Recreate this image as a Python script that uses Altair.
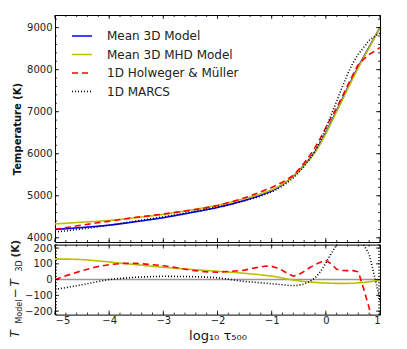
import altair as alt
import pandas as pd

# ---- data ----
log_tau = [-5, -4.75, -4.5, -4.25, -4, -3.75, -3.5, -3.25, -3, -2.75, -2.5, -2.25,
           -2, -1.75, -1.5, -1.25, -1.1, -1, -0.9, -0.8, -0.7, -0.6, -0.5, -0.4,
           -0.3, -0.2, -0.1, 0, 0.1, 0.2, 0.3, 0.4, 0.5, 0.6, 0.7, 0.8, 0.9, 1.0]

T_3D = [4200, 4220, 4245, 4270, 4300, 4340, 4385, 4430, 4478, 4535, 4595, 4655,
        4720, 4800, 4890, 4990, 5065, 5115, 5185, 5265, 5360, 5465, 5590, 5730,
        5880, 6050, 6260, 6500, 6760, 7030, 7290, 7560, 7820, 8070, 8310, 8540, 8770, 9000]

T_MHD = [4330, 4350, 4372, 4390, 4412, 4443, 4480, 4516, 4556, 4606, 4660, 4714,
         4773, 4847, 4930, 5022, 5091, 5137, 5202, 5275, 5363, 5462, 5582, 5718,
         5865, 6032, 6240, 6478, 6737, 7006, 7266, 7536, 7797, 8049, 8292, 8526, 8761, 8995]

T_HM = [4200, 4250, 4302, 4350, 4395, 4443, 4488, 4526, 4566, 4610, 4655, 4705,
        4767, 4852, 4950, 5068, 5151, 5199, 5259, 5323, 5398, 5487, 5622, 5782,
        5955, 6145, 6370, 6622, 6860, 7096, 7348, 7617, 7877, 8120, 8250, 8360, 8440, 8524]

T_MARCS = [4138, 4172, 4212, 4255, 4300, 4349, 4400, 4449, 4499, 4555, 4614, 4671,
           4732, 4800, 4878, 4971, 5042, 5089, 5155, 5232, 5324, 5427, 5554, 5702,
           5868, 6060, 6310, 6605, 6925, 7250, 7580, 7890, 8160, 8370, 8530, 8700, 8790, 8870]

models = ["Mean 3D Model", "Mean 3D MHD Model", "1D Holweger & Müller", "1D MARCS"]
colors = ["#0000ff", "#bfbf00", "#ff0000", "#000000"]
dashes = [[1, 0], [1, 0], [6, 4], [1, 2]]
widths = [1.6, 1.6, 1.6, 1.1]

x_major = [-5, -4, -3, -2, -1, 0, 1]
x_minor = [round(-5 + 0.2 * i, 1) for i in range(31)]
t_major = [4000, 5000, 6000, 7000, 8000, 9000]
t_minor = list(range(4000, 9301, 200))
d_major = [-200, -100, 0, 100, 200]
d_minor = list(range(-220, 221, 20))

FONT = "DejaVu Sans"
W, H1, H2 = 325, 227, 70
MAJ, MIN = 4, 2

# ---- tables ----
series = [T_3D, T_MHD, T_HM, T_MARCS]
top_rows = []
for m, ts in zip(models, series):
    for lt, t in zip(log_tau, ts):
        top_rows.append({"lt": lt, "T": t, "model": m})
top_df = pd.DataFrame(top_rows)

bot_rows = []
for m, ts in zip(models[1:], series[1:]):
    for lt, t, t3 in zip(log_tau, ts, T_3D):
        bot_rows.append({"lt": lt, "dT": t - t3, "model": m})
bot_df = pd.DataFrame(bot_rows)

legend = alt.Legend(orient="none", legendX=16, legendY=10, title=None,
                    symbolType="stroke", symbolSize=400, labelFontSize=12,
                    labelFont=FONT, labelColor="#222", labelOffset=14,
                    rowPadding=1.5, padding=0)
color_enc = alt.Color("model:N", scale=alt.Scale(domain=models, range=colors), legend=legend, sort=models)
dash_enc = alt.StrokeDash("model:N", scale=alt.Scale(domain=models, range=dashes), legend=legend, sort=models)
width_enc = alt.StrokeWidth("model:N", scale=alt.Scale(domain=models, range=widths), legend=legend, sort=models)

x_scale = alt.Scale(domain=[-5, 1], nice=False, zero=False)


def xticks(x_enc, h):
    out = []
    for vals, L in ((x_minor, MIN), (x_major, MAJ)):
        base = alt.Chart(pd.DataFrame({"lt": vals})).mark_rule(color="black", strokeWidth=0.8)
        out.append(base.encode(x=x_enc, y=alt.value(0), y2=alt.value(L)))
        out.append(base.encode(x=x_enc, y=alt.value(h), y2=alt.value(h - L)))
    return out


def yticks(field, minor, major, y_enc):
    out = []
    for vals, L in ((minor, MIN), (major, MAJ)):
        base = alt.Chart(pd.DataFrame({field: vals})).mark_rule(color="black", strokeWidth=0.8)
        out.append(base.encode(y=y_enc, x=alt.value(0), x2=alt.value(L)))
        out.append(base.encode(y=y_enc, x=alt.value(W), x2=alt.value(W - L)))
    return out


# ---- top panel ----
xs_top = alt.X("lt:Q", scale=x_scale, axis=None)
ax_top_y = alt.Axis(values=t_major, format="d", title="Temperature (K)",
                    titleFont=FONT, titleFontSize=10, titleFontWeight="bold",
                    titleColor="#111", titleAngle=270, titleX=-38, titleY=H1 / 2,
                    titleAlign="center", titleBaseline="middle")
ys_top = alt.Y("T:Q", scale=alt.Scale(domain=[3900, 9300], nice=False, zero=False), axis=ax_top_y)

lines_top = alt.Chart(top_df).mark_line(clip=True).encode(
    x=xs_top, y=ys_top, color=color_enc, strokeDash=dash_enc, strokeWidth=width_enc,
    order=alt.Order("lt:Q"))

top = alt.layer(
    lines_top,
    *xticks(xs_top, H1),
    *yticks("T", t_minor, t_major, ys_top),
).properties(width=W, height=H1)

# ---- bottom panel ----
ax_bot_x = alt.Axis(values=x_major, format="d", title="log₁₀ τ₅₀₀", titleFont=FONT,
                    titleFontSize=13, titleFontWeight="normal", titleColor="#111",
                    titlePadding=4, labelPadding=1)
xs_bot = alt.X("lt:Q", scale=x_scale, axis=ax_bot_x)
ax_bot_y = alt.Axis(values=d_major, format="d", title=None)
ys_bot = alt.Y("dT:Q", scale=alt.Scale(domain=[-222, 222], nice=False, zero=False), axis=ax_bot_y)

zero = alt.Chart(pd.DataFrame({"dT": [0]})).mark_rule(color="#999999", strokeWidth=1.5).encode(y=ys_bot)

lines_bot = alt.Chart(bot_df).mark_line(clip=True).encode(
    x=xs_bot, y=ys_bot,
    color=alt.Color("model:N", scale=alt.Scale(domain=models, range=colors), legend=None),
    strokeDash=alt.StrokeDash("model:N", scale=alt.Scale(domain=models, range=dashes), legend=None),
    strokeWidth=alt.StrokeWidth("model:N", scale=alt.Scale(domain=models, range=widths), legend=None),
    order=alt.Order("lt:Q"))


def piece(txt, x, y, size, style="normal", weight="normal"):
    return alt.Chart(pd.DataFrame({"t": [txt]})).mark_text(
        angle=270, align="left", baseline="alphabetic", font=FONT, fontSize=size,
        fontStyle=style, fontWeight=weight, color="#222").encode(
        x=alt.value(x), y=alt.value(y), text="t:N")


label_parts = [
    piece("T", -36, 93, 12, style="italic"),
    piece("Model", -33.5, 79, 8),
    piece("−", -36, 54, 12),
    piece("T", -36, 42, 12, style="italic"),
    piece("3D", -33.5, 27, 8),
    piece("(K)", -36, 13, 10.5, weight="bold"),
]

bottom = alt.layer(
    zero,
    lines_bot,
    *xticks(xs_bot, H2),
    *yticks("dT", d_minor, d_major, ys_bot),
    *label_parts,
).properties(width=W, height=H2)

chart = alt.vconcat(top, bottom, spacing=2.6, bounds="flush").resolve_scale(
    color="independent", strokeDash="independent", strokeWidth="independent"
).properties(
    padding={"left": 0, "top": 6, "right": 5, "bottom": 0}
).configure_axis(
    labelFont=FONT, labelFontSize=10, labelColor="#222", ticks=False, tickSize=0,
    grid=False, domain=False, labelPadding=3
).configure_view(stroke="black", strokeWidth=1)

chart.save("out.html", embed_options={"renderer": "svg", "actions": False})
